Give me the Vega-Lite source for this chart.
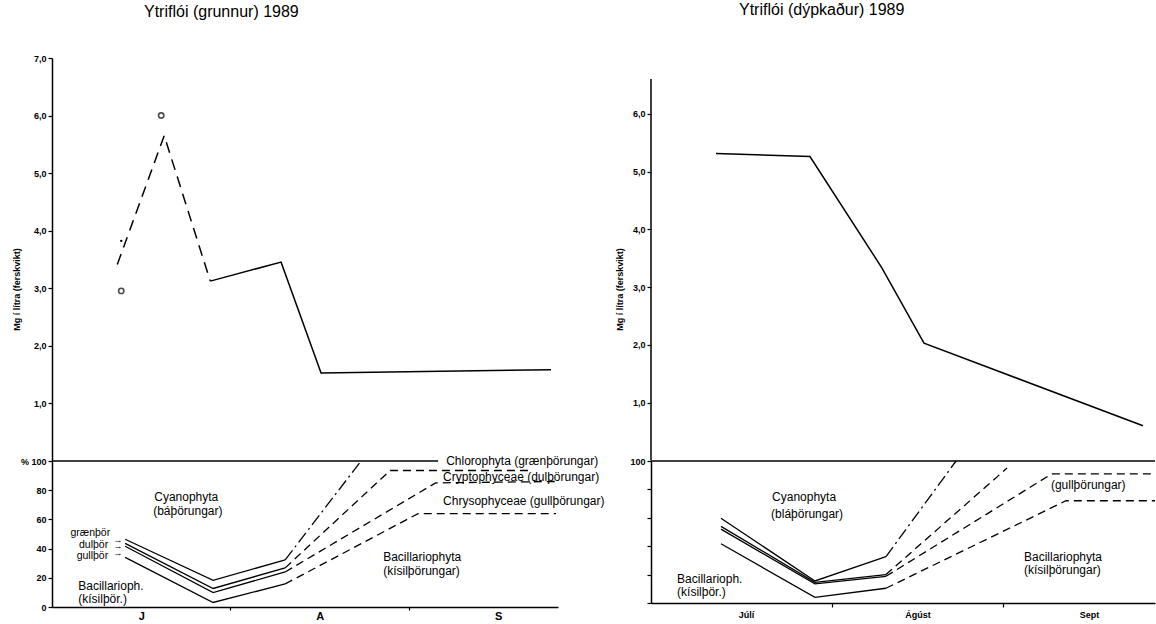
{
  "$schema": "https://vega.github.io/schema/vega-lite/v6.json",
  "padding": {"left": 12, "top": 2, "right": 0, "bottom": 0},
  "background": "white",
  "config": {
    "view": {"stroke": null},
    "font": "Liberation Sans",
    "axis": {
      "domainColor": "black", "tickColor": "black", "labelColor": "black", "titleColor": "black",
      "domainWidth": 1.5, "tickWidth": 1.2, "tickSize": 4, "grid": false, "labelOverlap": false,
      "labelFont": "Liberation Sans", "labelFontWeight": "bold", "labelFontSize": 9, "labelPadding": 2,
      "titleFont": "Liberation Sans", "titleFontWeight": "bold", "titleFontSize": 9
    },
    "title": {"font": "Liberation Sans", "fontWeight": "normal", "fontSize": 16, "color": "black"}
  },
  "datasets": {
    "lifmassi_grunnur_strik": [
      {"t": 7.366, "mg": 3.41},
      {"t": 7.629, "mg": 5.65},
      {"t": 7.887, "mg": 3.12}
    ],
    "lifmassi_grunnur_heil": [
      {"t": 7.887, "mg": 3.12},
      {"t": 8.284, "mg": 3.45},
      {"t": 8.508, "mg": 1.52},
      {"t": 9.797, "mg": 1.58}
    ],
    "hringir_grunnur": [
      {"t": 7.388, "mg": 2.95},
      {"t": 7.612, "mg": 6.0}
    ],
    "punktur_grunnur": [
      {"t": 7.388, "mg": 3.82}
    ],
    "lifmassi_dypkadur": [
      {"t": 7.325, "mg": 5.31},
      {"t": 7.873, "mg": 5.26},
      {"t": 8.293, "mg": 3.33},
      {"t": 8.538, "mg": 2.03},
      {"t": 9.815, "mg": 0.6}
    ],
    "hlutfall_grunnur_heil": [
      {"lina": "L1", "t": 7.41, "pct": 46.4},
      {"lina": "L1", "t": 7.903, "pct": 18.2},
      {"lina": "L1", "t": 8.307, "pct": 32.3},
      {"lina": "L2", "t": 7.41, "pct": 43.6},
      {"lina": "L2", "t": 7.903, "pct": 12.7},
      {"lina": "L2", "t": 8.307, "pct": 26.8},
      {"lina": "L3", "t": 7.41, "pct": 41.6},
      {"lina": "L3", "t": 7.903, "pct": 9.9},
      {"lina": "L3", "t": 8.307, "pct": 24.0},
      {"lina": "L4", "t": 7.41, "pct": 34.0},
      {"lina": "L4", "t": 7.903, "pct": 3.1},
      {"lina": "L4", "t": 8.307, "pct": 15.8}
    ],
    "hlutfall_grunnur_strikpunktur": [
      {"lina": "L1", "t": 8.307, "pct": 32.3},
      {"lina": "L1", "t": 8.732, "pct": 100}
    ],
    "hlutfall_grunnur_strik": [
      {"lina": "L2", "t": 8.307, "pct": 26.8},
      {"lina": "L2", "t": 8.895, "pct": 93.5},
      {"lina": "L2", "t": 9.668, "pct": 93.5},
      {"lina": "L3", "t": 8.307, "pct": 24.0},
      {"lina": "L3", "t": 9.15, "pct": 85},
      {"lina": "L3", "t": 9.836, "pct": 86},
      {"lina": "L4", "t": 8.307, "pct": 15.8},
      {"lina": "L4", "t": 9.052, "pct": 64},
      {"lina": "L4", "t": 9.825, "pct": 64}
    ],
    "hlutfall_dypkadur_heil": [
      {"lina": "L1", "t": 7.354, "pct": 59.7},
      {"lina": "L1", "t": 7.902, "pct": 15.5},
      {"lina": "L1", "t": 8.316, "pct": 32.6},
      {"lina": "L2", "t": 7.354, "pct": 54},
      {"lina": "L2", "t": 7.902, "pct": 14.5},
      {"lina": "L2", "t": 8.316, "pct": 20},
      {"lina": "L3", "t": 7.354, "pct": 52},
      {"lina": "L3", "t": 7.902, "pct": 13.5},
      {"lina": "L3", "t": 8.316, "pct": 18.8},
      {"lina": "L4", "t": 7.354, "pct": 41.7},
      {"lina": "L4", "t": 7.902, "pct": 4},
      {"lina": "L4", "t": 8.316, "pct": 10.4}
    ],
    "hlutfall_dypkadur_strikpunktur": [
      {"lina": "L1", "t": 8.316, "pct": 32.6},
      {"lina": "L1", "t": 8.725, "pct": 100}
    ],
    "hlutfall_dypkadur_strik": [
      {"lina": "L2", "t": 8.316, "pct": 20},
      {"lina": "L2", "t": 9.022, "pct": 95},
      {"lina": "L3", "t": 8.316, "pct": 18.8},
      {"lina": "L3", "t": 9.284, "pct": 91},
      {"lina": "L3", "t": 9.885, "pct": 91},
      {"lina": "L4", "t": 8.316, "pct": 10.4},
      {"lina": "L4", "t": 9.366, "pct": 72},
      {"lina": "L4", "t": 9.885, "pct": 72}
    ],
    "merki_grunnur": [
      {"t": 7.573, "pct": 75.6, "texti": "Cyanophyta"},
      {"t": 7.567, "pct": 66, "texti": "(báþörungar)"},
      {"t": 7.147, "pct": 14.4, "texti": "Bacillarioph."},
      {"t": 7.147, "pct": 5.5, "texti": "(kísilþör.)"},
      {"t": 8.856, "pct": 34.4, "texti": "Bacillariophyta"},
      {"t": 8.856, "pct": 24.7, "texti": "(kísilþörungar)"},
      {"t": 9.209, "pct": 100, "texti": "Chlorophyta (grænþörungar)"},
      {"t": 9.192, "pct": 89.3, "texti": "Cryptophyceae (dulþörungar)"},
      {"t": 9.192, "pct": 72.9, "texti": "Chrysophyceae (gullþörungar)"}
    ],
    "merki_grunnur_haegrijafnad": [
      {"t": 7.326, "pct": 50.4, "texti": "grænþör"},
      {"t": 7.315, "pct": 42.6, "texti": "dulþör"},
      {"t": 7.315, "pct": 34.8, "texti": "gullþör"}
    ],
    "orvar_grunnur": [
      {"t": 7.37, "pct": 46.2, "texti": "→"},
      {"t": 7.37, "pct": 42.0, "texti": "→"},
      {"t": 7.37, "pct": 37.3, "texti": "→"}
    ],
    "merki_dypkadur": [
      {"t": 7.652, "pct": 74.5, "texti": "Cyanophyta"},
      {"t": 7.646, "pct": 62.8, "texti": "(bláþörungar)"},
      {"t": 7.098, "pct": 16.6, "texti": "Bacillarioph."},
      {"t": 7.098, "pct": 7.6, "texti": "(kísilþör.)"},
      {"t": 9.278, "pct": 82.8, "texti": "(gullþörungar)"},
      {"t": 9.121, "pct": 32.4, "texti": "Bacillariophyta"},
      {"t": 9.121, "pct": 23.4, "texti": "(kísilþörungar)"}
    ]
  },
  "bounds": "flush",
  "columns": 2,
  "spacing": {"row": 0, "column": 93},
  "concat": [
    {
      "title": {"text": "Ytriflói (grunnur)  1989", "anchor": "start", "frame": "group", "dx": 92, "offset": 34},
      "width": 506,
      "height": 402.5,
      "layer": [
        {
          "data": {"name": "lifmassi_grunnur_strik"},
          "mark": {"type": "line", "color": "black", "strokeWidth": 1.5, "strokeDash": [11, 7]},
          "encoding": {
            "x": {"field": "t", "type": "quantitative", "scale": {"domain": [7.0, 9.836], "nice": false, "zero": false}, "axis": null},
            "y": {"field": "mg", "type": "quantitative", "scale": {"domain": [0, 7], "nice": false},
              "axis": {"values": [1, 2, 3, 4, 5, 6, 7], "tickCount": 20, "labelOverlap": false, "labelExpr": "replace(format(datum.value, '.1f'), '.', ',')",
                "title": "Mg í lítra (ferskvikt)", "titlePadding": 12, "titleY": 231}}
          }
        },
        {
          "data": {"name": "lifmassi_grunnur_heil"},
          "mark": {"type": "line", "color": "black", "strokeWidth": 1.5},
          "encoding": {
            "x": {"field": "t", "type": "quantitative"},
            "y": {"field": "mg", "type": "quantitative"}
          }
        },
        {
          "data": {"name": "hringir_grunnur"},
          "mark": {"type": "point", "shape": "circle", "filled": false, "color": "black", "strokeWidth": 1.6, "size": 28},
          "encoding": {
            "x": {"field": "t", "type": "quantitative"},
            "y": {"field": "mg", "type": "quantitative"}
          }
        },
        {
          "data": {"name": "punktur_grunnur"},
          "mark": {"type": "point", "shape": "circle", "filled": true, "color": "black", "size": 6, "opacity": 1},
          "encoding": {
            "x": {"field": "t", "type": "quantitative"},
            "y": {"field": "mg", "type": "quantitative"}
          }
        }
      ]
    },
    {
      "title": {"text": "Ytriflói (dýpkaður) 1989", "anchor": "start", "frame": "group", "dx": 88, "offset": 40},
      "width": 504,
      "height": 402.5,
      "layer": [
        {
          "data": {"name": "lifmassi_dypkadur"},
          "mark": {"type": "line", "color": "black", "strokeWidth": 1.5},
          "encoding": {
            "x": {"field": "t", "type": "quantitative", "scale": {"domain": [6.946, 9.885], "nice": false, "zero": false}, "axis": null},
            "y": {"field": "mg", "type": "quantitative", "scale": {"domain": [0, 6.964], "nice": false},
              "axis": {"values": [1, 2, 3, 4, 5, 6], "tickCount": 20, "labelOverlap": false, "domain": false, "labelExpr": "replace(format(datum.value, '.1f'), '.', ',')",
                "title": "Mg í lítra (ferskvikt)", "titlePadding": 8, "titleY": 231}}
          }
        },
        {
          "data": {"values": [{}]},
          "mark": {"type": "rule", "color": "black", "strokeWidth": 1.5},
          "encoding": {
            "x": {"datum": 6.946, "type": "quantitative"},
            "y": {"datum": 0, "type": "quantitative"},
            "y2": {"datum": 6.6}
          }
        }
      ]
    },
    {
      "width": 506,
      "height": 146,
      "layer": [
        {
          "data": {"name": "hlutfall_grunnur_heil"},
          "mark": {"type": "line", "color": "black", "strokeWidth": 1.3},
          "encoding": {
            "x": {"field": "t", "type": "quantitative", "scale": {"domain": [7.0, 9.836], "nice": false, "zero": false},
              "axis": {"values": [7.5, 8, 8.5, 9, 9.5], "tickCount": 20, "title": null, "labelOverlap": false, "labelFontSize": 11, "labelPadding": 0, "tickSize": 3,
                "labelExpr": "datum.value == 7.5 ? 'J' : datum.value == 8.5 ? 'A' : datum.value == 9.5 ? 'S' : ''",
                "tickOpacity": {"condition": {"test": "datum.value % 1 != 0", "value": 0}, "value": 1}}},
            "y": {"field": "pct", "type": "quantitative", "scale": {"domain": [0, 100], "nice": false},
              "axis": {"values": [0, 20, 40, 60, 80, 100], "tickCount": 20, "title": null, "labelOverlap": false, "labelExpr": "datum.value == 100 ? '% 100' : datum.label"}},
            "detail": {"field": "lina", "type": "nominal"}
          }
        },
        {
          "data": {"name": "hlutfall_grunnur_strikpunktur"},
          "mark": {"type": "line", "color": "black", "strokeWidth": 1.3, "strokeDash": [12, 4, 2, 4]},
          "encoding": {
            "x": {"field": "t", "type": "quantitative"},
            "y": {"field": "pct", "type": "quantitative"},
            "detail": {"field": "lina", "type": "nominal"}
          }
        },
        {
          "data": {"name": "hlutfall_grunnur_strik"},
          "mark": {"type": "line", "color": "black", "strokeWidth": 1.3, "strokeDash": [8, 5]},
          "encoding": {
            "x": {"field": "t", "type": "quantitative"},
            "y": {"field": "pct", "type": "quantitative"},
            "detail": {"field": "lina", "type": "nominal"}
          }
        },
        {
          "data": {"values": [{}]},
          "mark": {"type": "rule", "color": "black", "strokeWidth": 1.5},
          "encoding": {
            "x": {"datum": 7.0, "type": "quantitative"},
            "x2": {"datum": 9.164},
            "y": {"datum": 100, "type": "quantitative"}
          }
        },
        {
          "data": {"name": "merki_grunnur"},
          "mark": {"type": "text", "align": "left", "baseline": "middle", "fontSize": 12, "color": "black"},
          "encoding": {
            "x": {"field": "t", "type": "quantitative"},
            "y": {"field": "pct", "type": "quantitative"},
            "text": {"field": "texti"}
          }
        },
        {
          "data": {"name": "merki_grunnur_haegrijafnad"},
          "mark": {"type": "text", "align": "right", "baseline": "middle", "fontSize": 10.5, "color": "black"},
          "encoding": {
            "x": {"field": "t", "type": "quantitative"},
            "y": {"field": "pct", "type": "quantitative"},
            "text": {"field": "texti"}
          }
        },
        {
          "data": {"name": "orvar_grunnur"},
          "mark": {"type": "text", "align": "center", "baseline": "middle", "fontSize": 9, "color": "black"},
          "encoding": {
            "x": {"field": "t", "type": "quantitative"},
            "y": {"field": "pct", "type": "quantitative"},
            "text": {"field": "texti"}
          }
        }
      ]
    },
    {
      "width": 504,
      "height": 142,
      "layer": [
        {
          "data": {"name": "hlutfall_dypkadur_heil"},
          "mark": {"type": "line", "color": "black", "strokeWidth": 1.3},
          "encoding": {
            "x": {"field": "t", "type": "quantitative", "scale": {"domain": [6.946, 9.885], "nice": false, "zero": false},
              "axis": {"values": [7.5, 8, 8.5, 9, 9.5], "tickCount": 20, "title": null, "labelOverlap": false, "labelPadding": 3,
                "labelExpr": "datum.value == 7.5 ? 'Júlí' : datum.value == 8.5 ? 'Ágúst' : datum.value == 9.5 ? 'Sept' : ''",
                "tickOpacity": {"condition": {"test": "datum.value % 1 != 0", "value": 0}, "value": 1}}},
            "y": {"field": "pct", "type": "quantitative", "scale": {"domain": [0, 100], "nice": false},
              "axis": {"values": [0, 20, 40, 60, 80, 100], "tickCount": 20, "title": null, "labelOverlap": false, "labelExpr": "datum.value == 100 ? '100' : ''"}},
            "detail": {"field": "lina", "type": "nominal"}
          }
        },
        {
          "data": {"name": "hlutfall_dypkadur_strikpunktur"},
          "mark": {"type": "line", "color": "black", "strokeWidth": 1.3, "strokeDash": [12, 4, 2, 4]},
          "encoding": {
            "x": {"field": "t", "type": "quantitative"},
            "y": {"field": "pct", "type": "quantitative"},
            "detail": {"field": "lina", "type": "nominal"}
          }
        },
        {
          "data": {"name": "hlutfall_dypkadur_strik"},
          "mark": {"type": "line", "color": "black", "strokeWidth": 1.3, "strokeDash": [8, 5]},
          "encoding": {
            "x": {"field": "t", "type": "quantitative"},
            "y": {"field": "pct", "type": "quantitative"},
            "detail": {"field": "lina", "type": "nominal"}
          }
        },
        {
          "data": {"values": [{}]},
          "mark": {"type": "rule", "color": "black", "strokeWidth": 1.5},
          "encoding": {
            "x": {"datum": 6.946, "type": "quantitative"},
            "x2": {"datum": 9.885},
            "y": {"datum": 100, "type": "quantitative"}
          }
        },
        {
          "data": {"name": "merki_dypkadur"},
          "mark": {"type": "text", "align": "left", "baseline": "middle", "fontSize": 12, "color": "black"},
          "encoding": {
            "x": {"field": "t", "type": "quantitative"},
            "y": {"field": "pct", "type": "quantitative"},
            "text": {"field": "texti"}
          }
        }
      ]
    }
  ]
}
